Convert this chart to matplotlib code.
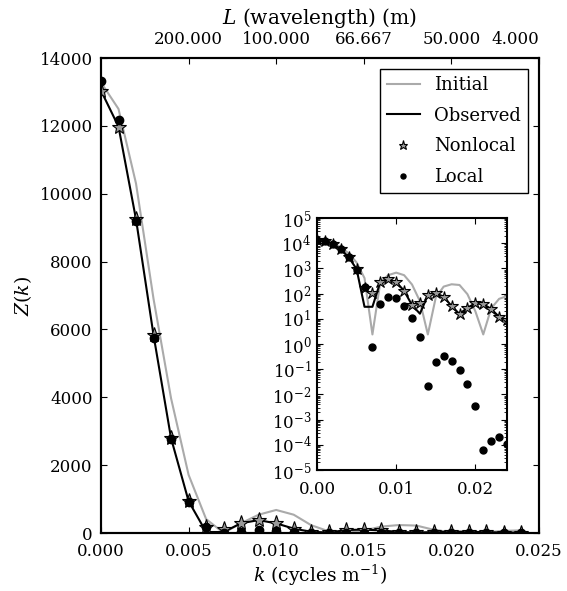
import matplotlib
matplotlib.use('Agg')
import matplotlib.pyplot as plt
from matplotlib.ticker import LogLocator, LogFormatterMathtext, FormatStrFormatter
import numpy as np

# wavenumber samples (cycles per metre)
k = [0.000, 0.001, 0.002, 0.003, 0.004, 0.005, 0.006, 0.007, 0.008, 0.009,
     0.010, 0.011, 0.012, 0.013, 0.014, 0.015, 0.016, 0.017, 0.018, 0.019,
     0.020, 0.021, 0.022, 0.023, 0.024]

initial = [13280, 12500, 10300, 6900, 3970, 1716, 412, 2.4, 290, 540,
           680, 540, 230, 50, 2.4, 70, 190, 235, 220, 95,
           20, 2.4, 26, 62, 80]
observed = [13040, 11980, 9245, 5833, 2794, 940, 30, 30, 290, 380,
            285, 130, 35, 16, 87, 102, 76, 32, 15.5, 27.6,
            41, 39, 24.5, 12, 9]
nonlocal_ = [13040, 11980, 9245, 5833, 2794, 940, 170, 105, 290, 380,
             285, 130, 35, 41, 87, 102, 76, 32, 15.5, 27.6,
             41, 39, 24.5, 12, 9]
local = [13314, 12186, 9200, 5735, 2780, 900, 185, 0.78, 39, 76,
         65, 33, 11, 1.95, 0.022, 0.19, 0.33, 0.22, 0.095, 0.026,
         0.0035, 6.1e-5, 1.4e-4, 2.1e-4, 1.07e-4]

top_ticks = [0.005, 0.010, 0.015, 0.020, 0.025]
top_labels = ['200.000', '100.000', '66.667', '50.000', '4.000']

plt.rcParams['font.family'] = ['DejaVu Serif']
plt.rcParams['mathtext.fontset'] = 'dejavuserif'
plt.rcParams['font.size'] = 12
plt.rcParams['axes.linewidth'] = 1.5
plt.rcParams['xtick.direction'] = 'in'
plt.rcParams['ytick.direction'] = 'in'
plt.rcParams['xtick.major.size'] = 4
plt.rcParams['ytick.major.size'] = 4
plt.rcParams['xtick.minor.size'] = 2
plt.rcParams['ytick.minor.size'] = 2
plt.rcParams['xtick.major.pad'] = 7
plt.rcParams['ytick.major.pad'] = 6


def draw(ax, ms_star, ms_dot):
    ax.plot(k, initial, color='#aaaaaa', lw=1.5, label='Initial')
    ax.plot(k, observed, color='black', lw=1.5, label='Observed')
    ax.plot(k, nonlocal_, ls='none', marker='*', ms=ms_star, mfc='#999999',
            mec='black', mew=0.8, label='Nonlocal')
    ax.plot(k, local, ls='none', marker='o', ms=ms_dot, mfc='black',
            mec='black', label='Local')


fig = plt.figure(figsize=(5.67, 5.91), dpi=100)
ax = fig.add_axes([0.1781, 0.0981, 0.7725, 0.8037])
draw(ax, 11, 6)
ax.set_xlim(0, 0.025)
ax.set_ylim(0, 14000)
ax.xaxis.set_major_formatter(FormatStrFormatter('%.3f'))
ax.tick_params(top=False, right=True)
ax.set_xlabel(r'$k$ (cycles m$^{-1}$)', fontsize=13.5, labelpad=2)
ax.set_ylabel(r'$Z(k)$', fontsize=13.5)

leg = ax.legend(loc='upper right', numpoints=1, markerscale=0.6,
                fancybox=False, framealpha=1, edgecolor='black',
                borderaxespad=0.6, fontsize=13, labelspacing=0.7,
                handlelength=1.8)
leg.get_frame().set_linewidth(1.0)

ax2 = ax.twiny()
ax2.set_xlim(ax.get_xlim())
ax2.set_xticks(top_ticks)
ax2.set_xticklabels(top_labels, fontsize=12)
ax2.tick_params(direction='in', pad=7)
lab = ax2.get_xticklabels()[-1]
lab.set_horizontalalignment('right')
ax2.set_xlabel(r'$L$ (wavelength) (m)', fontsize=14.5, labelpad=5)

ins = fig.add_axes([0.5591, 0.2047, 0.3351, 0.4264])
draw(ins, 9, 5)
ins.set_yscale('log')
ins.set_xlim(0, 0.024)
ins.set_ylim(1e-5, 1e5)
ins.set_xticks([0.00, 0.01, 0.02])
ins.xaxis.set_major_formatter(FormatStrFormatter('%.2f'))
ins.yaxis.set_major_locator(LogLocator(base=10, numticks=15))
ins.yaxis.set_minor_locator(LogLocator(base=10, subs=np.arange(2, 10), numticks=15))
ins.yaxis.set_major_formatter(LogFormatterMathtext())
ins.tick_params(which='both', top=True, right=True, labelsize=12)
ins.tick_params(axis='y', pad=4)
ins.tick_params(axis='x', pad=8)

fig.savefig('out.png', dpi=100, facecolor='white')
